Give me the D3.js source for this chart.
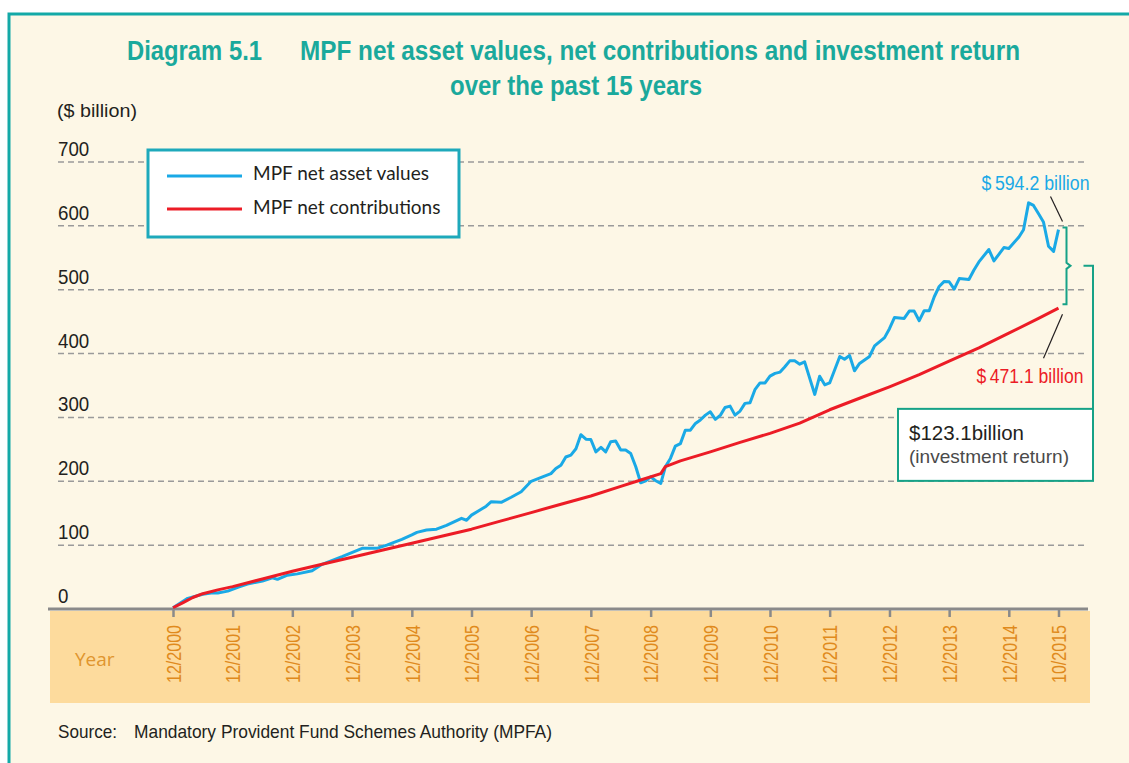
<!DOCTYPE html>
<html>
<head>
<meta charset="utf-8">
<script src="https://cdn.jsdelivr.net/npm/d3@7"></script>
<style>
  body { margin: 0; background: #fff; }
  svg text { font-family: "Liberation Sans", Arial, sans-serif; }
</style>
</head>
<body>
<script>
// MPF net asset values ($ billion)
const navMonths = [
  "2000-12",
  "2001-03", "2001-06", "2001-08", "2001-09", "2001-11",
  "2002-01", "2002-03", "2002-06", "2002-08", "2002-09", "2002-11",
  "2003-01", "2003-04", "2003-06", "2003-10",
  "2004-02", "2004-05", "2004-07", "2004-10", "2004-12",
  "2005-01", "2005-03", "2005-05", "2005-07", "2005-10", "2005-11", "2005-12",
  "2006-02", "2006-03", "2006-04", "2006-06", "2006-08", "2006-10", "2006-12",
  "2007-02", "2007-04", "2007-05", "2007-06", "2007-07", "2007-08", "2007-09", "2007-10", "2007-11", "2007-12",
  "2008-01", "2008-02", "2008-03", "2008-04", "2008-05", "2008-06", "2008-07", "2008-08", "2008-09", "2008-10", "2008-11", "2008-12",
  "2009-01", "2009-02", "2009-03", "2009-04", "2009-05", "2009-06", "2009-07", "2009-08", "2009-09", "2009-10", "2009-11", "2009-12",
  "2010-01", "2010-02", "2010-03", "2010-04", "2010-05", "2010-06", "2010-07", "2010-08", "2010-09", "2010-10", "2010-11", "2010-12",
  "2011-01", "2011-02", "2011-03", "2011-04", "2011-05", "2011-06", "2011-07", "2011-09", "2011-10", "2011-11", "2011-12",
  "2012-02", "2012-03", "2012-04", "2012-05", "2012-06", "2012-08", "2012-09", "2012-11", "2012-12",
  "2013-01", "2013-03", "2013-04", "2013-05", "2013-06", "2013-07", "2013-08", "2013-09", "2013-10", "2013-11", "2013-12",
  "2014-01", "2014-02", "2014-04", "2014-05", "2014-06", "2014-08", "2014-09", "2014-11", "2014-12",
  "2015-02", "2015-03", "2015-04", "2015-05", "2015-06", "2015-07", "2015-08", "2015-09", "2015-10"
];
const navValues = [
  2,
  16.7, 23, 25.5, 25, 28,
  34, 39, 43.8, 49, 46.5, 53,
  55, 60, 70, 82,
  95, 95, 100, 109, 116,
  120, 123.6, 125, 131, 142, 139, 147,
  156.5, 161, 168, 167, 175, 183.6, 200,
  206, 212, 220, 225, 238, 241, 251, 273, 266, 265.5,
  246, 253, 246, 262, 263, 249, 249, 243.6, 222.7, 197.7, 200.8, 207,
  200.8, 196.7, 222.7, 235.8, 255, 259, 280, 280, 290.6, 296, 303.6, 308.8,
  297, 303.6, 315.6, 317.7, 303.6, 310, 322, 323, 344, 354, 354, 364.6,
  369, 371, 379, 388.6, 388.6, 383.4, 387, 336, 364.6, 351, 354,
  395.5, 391, 397, 373, 384.5, 395.5, 412, 425, 439,
  456.5, 455, 466.5, 466.5, 451.5, 467, 467, 489, 505, 513, 512.5,
  501, 517.5, 516, 530.5, 543.5, 563, 545, 566, 564.5,
  582.6, 594, 636, 632, 619, 606, 568, 560, 594.2
];

// MPF net contributions ($ billion)
const contribMonths = [
  "2000-12", "2001-02", "2001-04", "2001-06", "2001-09", "2001-12",
  "2002-06", "2002-12", "2003-06", "2003-12", "2004-06", "2004-12",
  "2005-06", "2005-12", "2006-06", "2006-12", "2007-06", "2007-12",
  "2008-06", "2008-10", "2009-02", "2009-03", "2009-06", "2009-12",
  "2010-06", "2010-12", "2011-06", "2011-12", "2012-06", "2012-12",
  "2013-06", "2013-12", "2014-06", "2014-12", "2015-06", "2015-10"
];
const contribValues = [
  2, 10, 18, 24, 30, 35,
  47, 59, 70, 81, 92, 103,
  114, 125, 138, 151, 164, 177,
  192, 202, 212, 223, 232, 246,
  261, 275, 291, 312, 330, 348,
  367, 388, 409, 432, 455, 471.1
];

const xTickLabels = ["12/2000", "12/2001", "12/2002", "12/2003", "12/2004", "12/2005", "12/2006",
  "12/2007", "12/2008", "12/2009", "12/2010", "12/2011", "12/2012", "12/2013", "12/2014", "10/2015"];
const yTicks = [0, 100, 200, 300, 400, 500, 600, 700];
const seriesNames = ["MPF net asset values", "MPF net contributions"];
const seriesColors = ["#1aa9e6", "#ec1c26"];

const parseMonth = d3.timeParse("%Y-%m");
const parseTick = d3.timeParse("%m/%Y");

const nav = navMonths.map((m, i) => ({date: parseMonth(m), value: navValues[i]}));
const contrib = contribMonths.map((m, i) => ({date: parseMonth(m), value: contribValues[i]}));

const W = 1129, H = 763;
const x = d3.scaleTime()
  .domain([parseTick(xTickLabels[0]), parseTick(xTickLabels[xTickLabels.length - 1])])
  .range([173, 1058.5]);
const y = d3.scaleLinear().domain([0, 700]).range([609, 162]);

const svg = d3.select("body").append("svg").attr("width", W).attr("height", H);

// narrow-looking text: squeeze the regular face to a fixed width
function fit(sel, len) {
  return sel.attr("textLength", len).attr("lengthAdjust", "spacingAndGlyphs");
}

// frame
svg.append("rect").attr("x", 9).attr("y", 14).attr("width", W + 20).attr("height", H + 20)
  .attr("fill", "#fdf7e6").attr("stroke", "#13a9a7").attr("stroke-width", 3);

// title
const titleColor = "#1aa99c";
const title = [
  {text: "Diagram 5.1", x: 127, y: 60, len: 135},
  {text: "MPF net asset values, net contributions and investment return", x: 300, y: 60, len: 720},
  {text: "over the past 15 years", x: 450, y: 95, len: 252}
];
title.forEach(t => {
  fit(svg.append("text").attr("x", t.x).attr("y", t.y), t.len)
    .style("font-size", "27px").style("font-weight", "bold").attr("fill", titleColor)
    .text(t.text);
});

fit(svg.append("text").attr("x", 57).attr("y", 117), 80)
  .style("font-size", "18px").attr("fill", "#231f20").text("($ billion)");

// year band
svg.append("rect").attr("x", 50).attr("y", 611).attr("width", 1040).attr("height", 92)
  .attr("fill", "#fddb9d");
svg.append("text").attr("x", 75).attr("y", 666)
  .style("font-family", "'Open Sans', sans-serif").style("font-size", "19px")
  .attr("fill", "#e0952e").text("Year");

// grid + y labels
const grid = svg.append("g").attr("id", "grid");
grid.selectAll("line").data(yTicks.filter(v => v > 0)).join("line")
  .attr("x1", 58).attr("x2", 1085)
  .attr("y1", d => y(d)).attr("y2", d => y(d))
  .attr("stroke", "#9a9a9a").attr("stroke-width", 1.5).attr("stroke-dasharray", "6,4");
grid.selectAll("text").data(yTicks).join("text")
  .attr("x", 58).attr("y", d => y(d) - 6)
  .attr("textLength", d => String(d).length * 10.4).attr("lengthAdjust", "spacingAndGlyphs")
  .style("font-size", "20px").attr("fill", "#231f20")
  .text(d => d);

// x axis
const xAxis = d3.axisBottom(x)
  .tickValues(xTickLabels.map(parseTick))
  .tickFormat((d, i) => xTickLabels[i])
  .tickSize(8);
const gx = svg.append("g").attr("transform", `translate(0,${y(0)})`).call(xAxis);
gx.select(".domain").remove();
gx.selectAll(".tick line").attr("stroke", "#8a8a8a").attr("stroke-width", 2.5);
gx.selectAll(".tick text")
  .attr("transform", "rotate(-90)")
  .attr("x", -16).attr("y", 0).attr("dy", "0.36em")
  .attr("textLength", 58).attr("lengthAdjust", "spacingAndGlyphs")
  .style("text-anchor", "end")
  .style("font-family", "\"Liberation Sans\", Arial, sans-serif")
  .style("font-size", "20px")
  .attr("fill", "#e08a1c");
svg.append("line").attr("x1", 48).attr("x2", 1088).attr("y1", y(0)).attr("y2", y(0))
  .attr("stroke", "#8a8a8a").attr("stroke-width", 3);

// lines
const line = d3.line().x(d => x(d.date)).y(d => y(d.value));
svg.append("path").datum(nav).attr("d", line)
  .attr("fill", "none").attr("stroke", seriesColors[0]).attr("stroke-width", 3)
  .attr("stroke-linejoin", "round");
svg.append("path").datum(contrib).attr("d", line)
  .attr("fill", "none").attr("stroke", seriesColors[1]).attr("stroke-width", 3)
  .attr("stroke-linejoin", "round");

// legend
const legend = svg.append("g").attr("transform", "translate(148,150)");
legend.append("rect").attr("width", 311).attr("height", 87)
  .attr("fill", "#fff").attr("stroke", "#1ea9bb").attr("stroke-width", 3);
seriesNames.forEach((name, i) => {
  const ly = 26 + i * 33;
  legend.append("line").attr("x1", 19).attr("x2", 94).attr("y1", ly).attr("y2", ly)
    .attr("stroke", seriesColors[i]).attr("stroke-width", 3);
  legend.append("text").attr("x", 105).attr("y", ly + 4 + i * 0.5)
    .style("font-family", "Lato, 'Open Sans', sans-serif").style("font-size", "19px")
    .attr("fill", "#231f20").text(name);
});

// annotations
const navEnd = navValues[navValues.length - 1];
const contribEnd = contribValues[contribValues.length - 1];
const ex = x(parseMonth(navMonths[navMonths.length - 1]));
const yNav = y(navEnd), yCon = y(contribEnd);
const ann = svg.append("g");

fit(ann.append("text").attr("x", ex - 77).attr("y", yNav - 40), 108)
  .style("font-size", "20px").attr("fill", seriesColors[0])
  .text(`$\u2009${navEnd.toFixed(1)} billion`);
ann.append("line").attr("x1", ex - 8).attr("y1", yNav - 33).attr("x2", ex + 4).attr("y2", yNav - 8)
  .attr("stroke", "#231f20").attr("stroke-width", 1.2);

fit(ann.append("text").attr("x", ex - 82).attr("y", yCon + 75), 107)
  .style("font-size", "20px").attr("fill", seriesColors[1])
  .text(`$\u2009${contribEnd.toFixed(1)} billion`);
ann.append("line").attr("x1", ex + 4).attr("y1", yCon + 6).attr("x2", ex - 15).attr("y2", yCon + 50)
  .attr("stroke", "#231f20").attr("stroke-width", 1.2);

const green = "#16a287";
const bx = ex + 8, bTop = yNav - 2, bBot = yCon - 4, bMid = (bTop + bBot) / 2;
ann.append("path")
  .attr("d", `M${bx - 4},${bTop}H${bx}V${bMid - 3}L${bx + 4},${bMid}L${bx},${bMid + 3}V${bBot}H${bx - 4}`)
  .attr("fill", "none").attr("stroke", green).attr("stroke-width", 2);

const boxR = bx + 26.5, boxT = bMid + 143, boxW = 195, boxH = 72;
ann.append("path").attr("d", `M${bx + 17},${bMid}H${boxR}V${boxT}`)
  .attr("fill", "none").attr("stroke", green).attr("stroke-width", 2);
ann.append("rect").attr("x", boxR - boxW).attr("y", boxT).attr("width", boxW).attr("height", boxH)
  .attr("fill", "#fff").attr("stroke", green).attr("stroke-width", 2);
fit(ann.append("text").attr("x", boxR - boxW + 11).attr("y", boxT + 31), 115)
  .style("font-size", "20px").attr("fill", "#231f20")
  .text(`$${(navEnd - contribEnd).toFixed(1)}billion`);
fit(ann.append("text").attr("x", boxR - boxW + 11).attr("y", boxT + 54), 160)
  .style("font-size", "19px").attr("fill", "#4a4a4a")
  .text("(investment return)");

// source
fit(svg.append("text").attr("x", 58).attr("y", 738), 59)
  .style("font-size", "19px").attr("fill", "#231f20").text("Source:");
fit(svg.append("text").attr("x", 134).attr("y", 738), 418)
  .style("font-size", "19px").attr("fill", "#231f20")
  .text("Mandatory Provident Fund Schemes Authority (MPFA)");
</script>
</body>
</html>
